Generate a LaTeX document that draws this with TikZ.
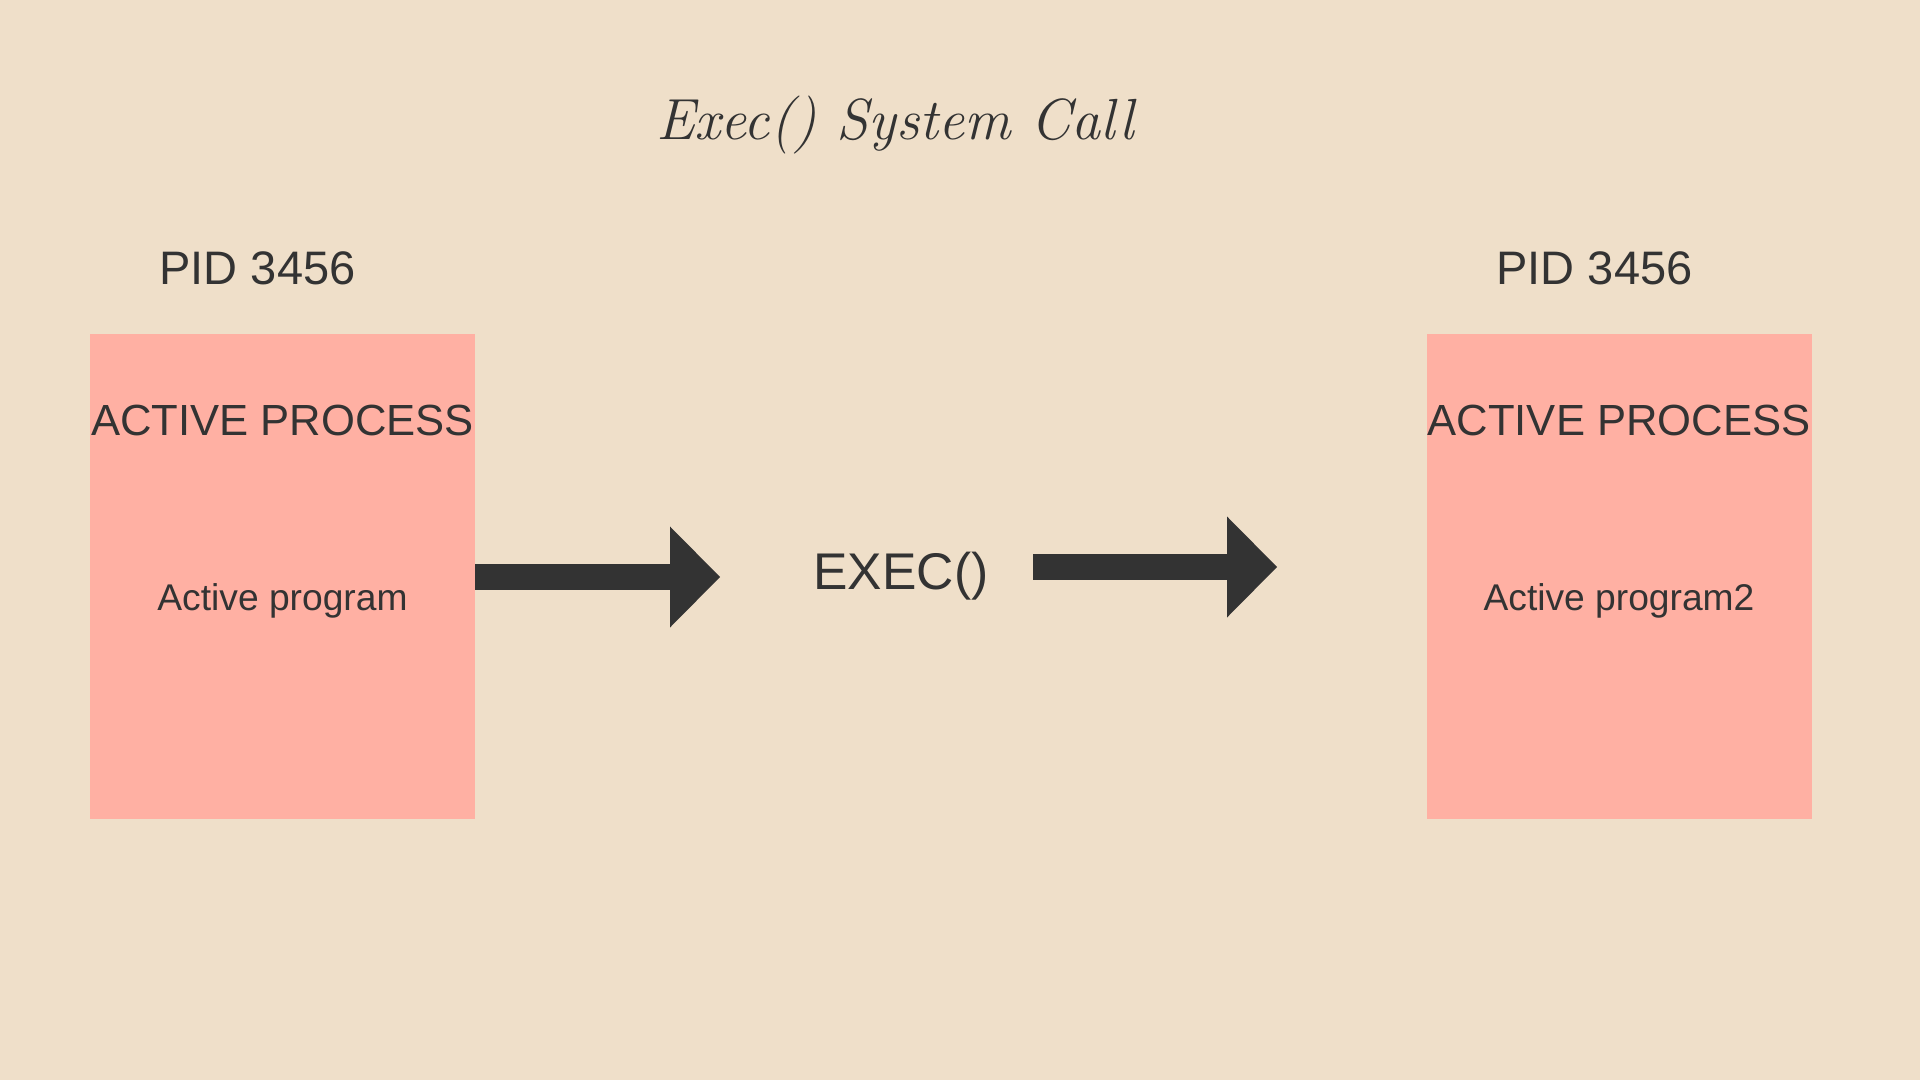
\documentclass[tikz,border=0pt]{standalone}
\usepackage{fontspec}
\setmainfont{Liberation Sans}
\newfontfamily\titlefont{Latin Modern Roman}
\usetikzlibrary{arrows.meta}
\definecolor{bg}{HTML}{EFDFC9}
\definecolor{boxc}{HTML}{FFB0A3}
\definecolor{ink}{HTML}{333333}
\tikzset{
  procbox/.style={fill=boxc, draw=none, minimum width=192.5pt, minimum height=242.5pt, inner sep=0pt},
  lbl/.style={text=ink, anchor=base, inner sep=0pt},
  pidtxt/.style={lbl, font=\fontsize{23.5pt}{27pt}\selectfont},
  headtxt/.style={lbl, font=\fontsize{21.8pt}{26pt}\selectfont},
  progtxt/.style={lbl, font=\fontsize{18.6pt}{22pt}\selectfont},
  exectxt/.style={lbl, font=\fontsize{25.8pt}{30pt}\selectfont},
  titletxt/.style={lbl, font=\titlefont\itshape\fontsize{29pt}{34pt}\selectfont},
  bigarrow/.style={draw=ink, line width=13pt, -{Triangle[length=25pt, width=50.5pt, line width=0pt]}}
}
\begin{document}
\begin{tikzpicture}[x=0.5pt, y=-0.5pt]
\fill[bg] (0,0) rectangle (1920,1080);
\useasboundingbox (0,0) rectangle (1920,1080);

\node[titletxt] (title) at (895,140) {Exec() System Call};

% left side
\node[procbox] (lbox) at (282.5,576.5) {};
\node[pidtxt] (lpid) at (257.5,285) {PID 3456};
\node[headtxt] (lhead) at (282.5,435) {ACTIVE PROCESS};
\node[progtxt] (lprog) at (282.5,610) {Active program};

% right side
\node[procbox] (rbox) at (1619,576.5) {};
\node[pidtxt] (rpid) at (1594.5,285) {PID 3456};
\node[headtxt] (rhead) at (1619,435) {ACTIVE PROCESS};
\node[progtxt] (rprog) at (1619,610) {Active program2};

% middle
\node[exectxt] (exec) at (901,589) {EXEC()};

\coordinate (ltip) at (720,577);
\coordinate (rstart) at (1033,567);
\coordinate (rtip) at (1277,567);

\draw[bigarrow] (lbox.east |- ltip) -- (ltip);
\draw[bigarrow] (rstart) -- (rtip);
\end{tikzpicture}
\end{document}
